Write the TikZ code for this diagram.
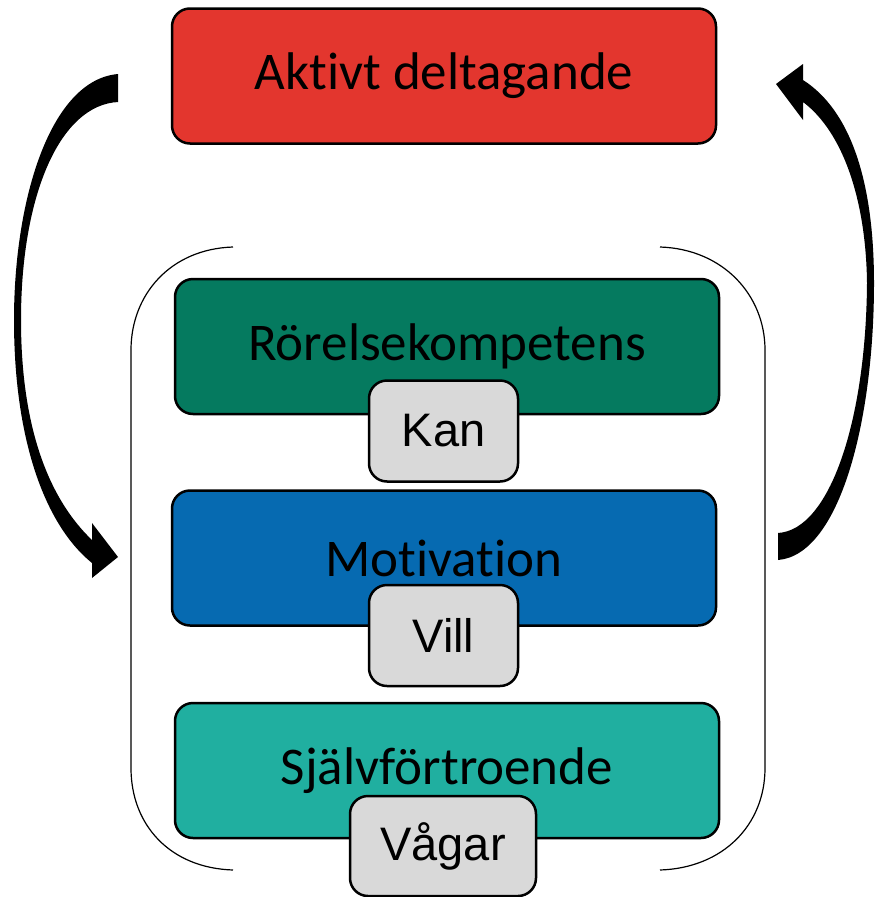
\documentclass[tikz,border=0pt]{standalone}
\usepackage{fontspec}
\setmainfont{Carlito}[Ligatures=NoCommon]
\newfontfamily\arialfont{Liberation Sans}
\definecolor{cred}{HTML}{E3362E}
\definecolor{cgreen}{HTML}{057A5F}
\definecolor{cblue}{HTML}{066AB1}
\definecolor{cteal}{HTML}{20AFA0}
\definecolor{cgray}{HTML}{D9D9D9}
\tikzset{
  bigbox/.style={draw=black, line width=2.5pt, rounded corners=18pt, minimum width=544pt, minimum height=135pt, inner sep=0pt, font=\fontsize{53}{58}\selectfont, text=black},
  smallbox/.style={draw=black, line width=2.5pt, rounded corners=18pt, fill=cgray, minimum height=101pt, inner sep=0pt, font=\arialfont\fontsize{47}{52}\selectfont, text=black},
  bracket/.style={draw=black, line width=1.2pt},
  bigarrow/.style={fill=black, draw=none}
}
\begin{document}
\begin{tikzpicture}[x=1pt, y=-1pt]
\useasboundingbox (0,0) rectangle (876,897);
% bracket
\draw[bracket] (233,247) .. controls (170,249) and (131,295) .. (131,350) -- (131,768) .. controls (131,825) and (170,868) .. (233,870);
\draw[bracket] (660,247) .. controls (723,249) and (765,295) .. (765,350) -- (765,768) .. controls (765,825) and (723,868) .. (660,870);
% left arrow
\fill[bigarrow] (118,74) .. controls (50,80) and (14,200) .. (14,320) .. controls (14,440) and (45,525) .. (92,563) -- (92,578) -- (118,557) -- (92,523) -- (92,540) .. controls (45,495) and (21,420) .. (21,320) .. controls (21,195) and (60,105) .. (118,102) -- cycle;
% right arrow
\fill[bigarrow] (778,560) .. controls (840,555) and (874,420) .. (874,283) .. controls (874,180) and (850,110) .. (803,80) -- (803,64) -- (776,84) -- (803,120) -- (803,102) .. controls (843,132) and (866,200) .. (867,283) .. controls (866,420) and (830,530) .. (778,533) -- cycle;
% big boxes
\node[bigbox, fill=cred] (red) at (444,76) {Aktivt deltagande};
\node[bigbox, fill=cgreen] (green) at (447,346.5) {Rörelsekompetens};
\node[bigbox, fill=cblue] (blue) at (444,558) {Motivation};
\node[bigbox, fill=cteal] (teal) at (447,770.5) {Självförtroende};
% small boxes
\node[smallbox, minimum width=149pt] (kan) at (443.5,431) {Kan};
\node[smallbox, minimum width=149pt] (vill) at (443.5,635.5) {Vill};
\node[smallbox, minimum width=186pt, minimum height=100pt] (vagar) at (443,846) {Vågar};
\end{tikzpicture}
\end{document}
